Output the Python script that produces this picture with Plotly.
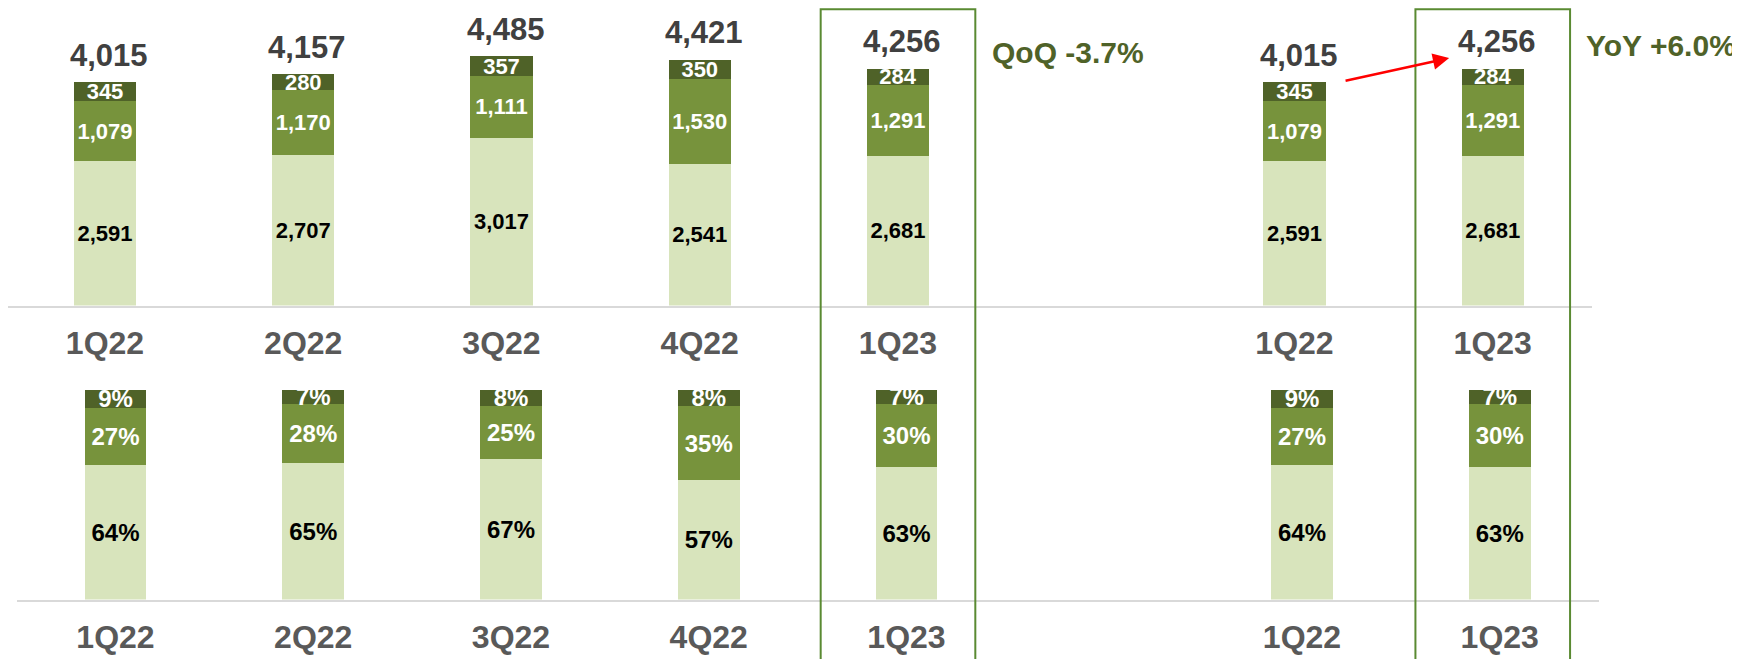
import plotly.graph_objects as go

# ---- data ----
quarters = ["1Q22", "2Q22", "3Q22", "4Q22", "1Q23"]
seg_base = [2591, 2707, 3017, 2541, 2681]      # light green (bottom)
seg_mid = [1079, 1170, 1111, 1530, 1291]       # mid green
seg_top = [345, 280, 357, 350, 284]            # dark green (top)
totals = [4015, 4157, 4485, 4421, 4256]

pct_base = [64, 65, 67, 57, 63]
pct_mid = [27, 28, 25, 35, 30]
pct_top = [9, 7, 8, 8, 7]

compare_idx = [0, 4]          # YoY comparison: 1Q22 vs 1Q23
qoq_text = "QoQ -3.7%"
yoy_text = "YoY +6.0%"

# ---- style ----
C_LIGHT = "#D8E4BC"
C_MID = "#77933C"
C_DARK = "#4F6228"
C_BOX = "#5A8A32"
C_TOTAL = "#404040"
C_CAT = "#595959"
FONT = "Arial, Liberation Sans, sans-serif"
W, H = 1740, 659
OFF = 8  # page body margin

# x slots: left group 0..4, empty slot, right group
x_left = list(range(len(quarters)))
x_right = [len(quarters) + 1 + i for i in range(len(compare_idx))]
xs = x_left + x_right
cats = quarters + [quarters[i] for i in compare_idx]

def pick(arr):
    return arr + [arr[i] for i in compare_idx]

fig = go.Figure()
bw = 0.313

def add_stack(vals_list, colors, tcolors, xa, ya, tmpl, fsize):
    for vals, col, tc in zip(vals_list, colors, tcolors):
        fig.add_trace(go.Bar(
            x=xs, y=pick(vals), width=bw, marker=dict(color=col, line=dict(width=0)),
            text=pick(vals), texttemplate=tmpl, textposition="inside",
            insidetextanchor="middle", textangle=0, constraintext="none",
            textfont=dict(family=FONT, size=fsize, color=tc),
            xaxis=xa, yaxis=ya, showlegend=False, hoverinfo="skip"))

add_stack([seg_base, seg_mid, seg_top], [C_LIGHT, C_MID, C_DARK],
          ["#000000", "#FFFFFF", "#FFFFFF"], "x", "y", "<b>%{y:,}</b>", 22)
add_stack([pct_base, pct_mid, pct_top], [C_LIGHT, C_MID, C_DARK],
          ["#000000", "#FFFFFF", "#FFFFFF"], "x2", "y2", "<b>%{y}%</b>", 24)

def xaxis_geom(left_px, right_px, c0_px, step):
    L = max(0, left_px - OFF)
    R = right_px - OFF
    c0 = c0_px - OFF
    return [L / W, R / W], [(L - c0) / step, (R - c0) / step]

top_dom, top_rng = xaxis_geom(6, 1592, 105, 198.25)
bot_dom, bot_rng = xaxis_geom(17, 1599, 115.5, 197.75)

top_base_px = 305.5 - OFF
top_scale = 0.0556          # px per unit
bot_base_px = 599.5 - OFF
bot_top_px = 330 - OFF
bot_scale = 2.1             # px per %

axis_common = dict(
    tickmode="array", tickvals=xs,
    ticktext=["<b>%s</b>" % c for c in cats],
    tickfont=dict(family=FONT, size=32, color=C_CAT),
    showgrid=False, zeroline=False, showline=True, linecolor="#D9D9D9", linewidth=2,
    ticks="outside", ticklen=8, tickcolor="rgba(0,0,0,0)", fixedrange=True)

fig.update_layout(
    width=W, height=H, margin=dict(l=0, r=0, t=0, b=0),
    paper_bgcolor="white", plot_bgcolor="white", barmode="stack",
    uniformtext=dict(minsize=22, mode="show"),
    xaxis=dict(domain=top_dom, range=top_rng, anchor="y", **axis_common),
    yaxis=dict(domain=[(H - top_base_px) / H, 1], range=[0, top_base_px / top_scale],
               visible=False, fixedrange=True),
    xaxis2=dict(domain=bot_dom, range=bot_rng, anchor="y2", **axis_common),
    yaxis2=dict(domain=[(H - bot_base_px) / H, (H - bot_top_px) / H],
                range=[0, (bot_base_px - bot_top_px) / bot_scale], visible=False, fixedrange=True),
)

# total labels
for x, t in zip(xs, pick(totals)):
    fig.add_annotation(x=x, y=t, xref="x", yref="y", text="<b>%s</b>" % format(t, ","),
                       showarrow=False, yshift=27, xshift=4, yanchor="middle",
                       font=dict(family=FONT, size=31, color=C_TOTAL))

# highlight boxes around the latest quarter
for xc in [x_left[-1], x_right[-1]]:
    fig.add_shape(type="rect", xref="x", yref="paper", x0=xc - 0.39, x1=xc + 0.39,
                  y0=-0.05, y1=1 - 1.2 / H, line=dict(color=C_BOX, width=2),
                  fillcolor="rgba(0,0,0,0)")

# QoQ / YoY texts
fig.add_annotation(xref="paper", yref="paper", x=(1068 - OFF) / W, y=1 - (52 - OFF) / H,
                   text="<b>%s</b>" % qoq_text, showarrow=False, xanchor="center", yanchor="middle",
                   font=dict(family=FONT, size=30, color=C_DARK))
fig.add_annotation(xref="paper", yref="paper", x=(1661 - OFF) / W, y=1 - (45 - OFF) / H,
                   text="<b>%s</b>" % yoy_text, showarrow=False, xanchor="center", yanchor="middle",
                   font=dict(family=FONT, size=30, color=C_DARK))

# red arrow from 1Q22 to 1Q23 (right group)
fig.add_annotation(xref="x", yref="y", axref="x", ayref="y",
                   x=x_right[1] - 0.22, y=totals[compare_idx[1]] + 195,
                   ax=x_right[0] + 0.25, ay=totals[compare_idx[0]] + 20,
                   text="", showarrow=True, arrowhead=2, arrowsize=1.3, arrowwidth=2.5,
                   arrowcolor="#FF0000")

fig.write_html("out.html")
